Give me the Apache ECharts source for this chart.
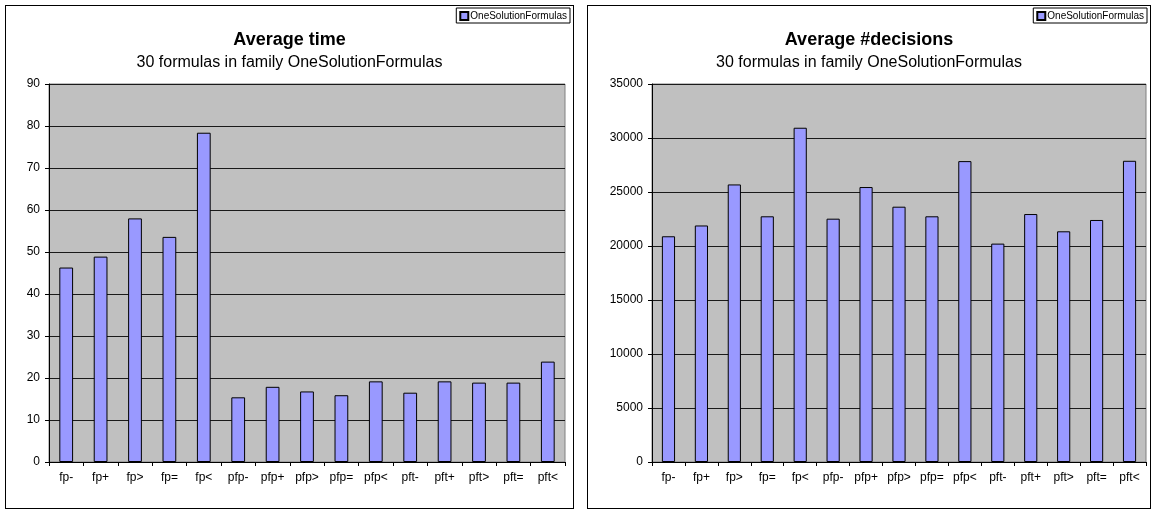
<!DOCTYPE html>
<html>
<head>
<meta charset="utf-8">
<script src="https://cdn.jsdelivr.net/npm/echarts@6/dist/echarts.min.js"></script>
<style>
  html, body { margin: 0; padding: 0; background: #fff; width: 1151px; height: 510px; overflow: hidden; }
  .panel { position: absolute; box-sizing: border-box; border: 1px solid #000; background: #fff; }
  #timeChart { left: 5px; top: 5px; width: 569px; height: 504px; }
  #decChart { left: 587px; top: 5px; width: 564px; height: 504px; }
</style>
</head>
<body>
<div id="timeChart" class="panel"></div>
<div id="decChart" class="panel"></div>
<script>
// Solver variants on the x axis
const categories = ['fp-', 'fp+', 'fp>', 'fp=', 'fp<', 'pfp-', 'pfp+', 'pfp>', 'pfp=', 'pfp<', 'pft-', 'pft+', 'pft>', 'pft=', 'pft<'];

// Average solving time per variant
const avgTime = [46.3, 48.9, 58.0, 53.6, 78.4, 15.4, 17.9, 16.8, 15.9, 19.2, 16.5, 19.2, 18.9, 18.9, 23.9];

// Average number of decisions per variant
const avgDecisions = [20900, 21900, 25700, 22750, 30950, 22530, 25460, 23640, 22750, 27860, 20220, 22960, 21360, 22410, 27890];

const seriesName = 'OneSolutionFormulas';
const subtitle = '30 formulas in family OneSolutionFormulas';
const FONT = '"Liberation Sans", Arial, sans-serif';

function buildOption(title, values, yMax, yStep, grid) {
  return {
    animation: false,
    textStyle: { fontFamily: FONT },
    title: [
      { text: title, left: 'center', top: 20,
        textStyle: { fontFamily: FONT, fontSize: 18, fontWeight: 'bold', color: '#000' } },
      { text: subtitle, left: 'center', top: 44,
        textStyle: { fontFamily: FONT, fontSize: 16, fontWeight: 'normal', color: '#000' } }
    ],
    legend: {
      right: 3, top: 2,
      data: [seriesName],
      icon: 'rect',
      itemWidth: 8, itemHeight: 8, itemGap: 4,
      padding: [3, 3, 2, 3],
      borderColor: '#000', borderWidth: 1,
      backgroundColor: '#fff',
      textStyle: { fontFamily: FONT, fontSize: 10, color: '#000', padding: [0, 0, 0, -3] }
    },
    grid: Object.assign({
      show: true, backgroundColor: '#c0c0c0', borderColor: '#808080', borderWidth: 1,
      containLabel: false
    }, grid),
    xAxis: {
      type: 'category',
      data: categories,
      axisLine: { lineStyle: { color: '#000', width: 1 } },
      axisTick: { show: true, length: 4, lineStyle: { color: '#000' } },
      axisLabel: { color: '#000', fontSize: 12, fontFamily: FONT, margin: 10, interval: 0 }
    },
    yAxis: {
      type: 'value',
      min: 0, max: yMax, interval: yStep,
      axisLine: { show: true, lineStyle: { color: '#000', width: 1 } },
      axisTick: { show: true, length: 4, lineStyle: { color: '#000' } },
      axisLabel: { color: '#000', fontSize: 12, fontFamily: FONT, margin: 9,
        formatter: (v) => String(v) },
      splitLine: { show: true, lineStyle: { color: '#1a1a1a', width: 1 } }
    },
    series: [{
      name: seriesName,
      type: 'bar',
      data: values,
      barWidth: '40%',
      itemStyle: { color: '#9999ff', borderColor: '#000', borderWidth: 1 }
    }]
  };
}

const timeChart = echarts.init(document.getElementById('timeChart'), null, { renderer: 'canvas' });
timeChart.setOption(buildOption('Average time', avgTime, 90, 10,
  { left: 43, right: 8, top: 78, bottom: 46 }));

const decChart = echarts.init(document.getElementById('decChart'), null, { renderer: 'canvas' });
decChart.setOption(buildOption('Average #decisions', avgDecisions, 35000, 5000,
  { left: 64, right: 4, top: 78, bottom: 46 }));
</script>
</body>
</html>
